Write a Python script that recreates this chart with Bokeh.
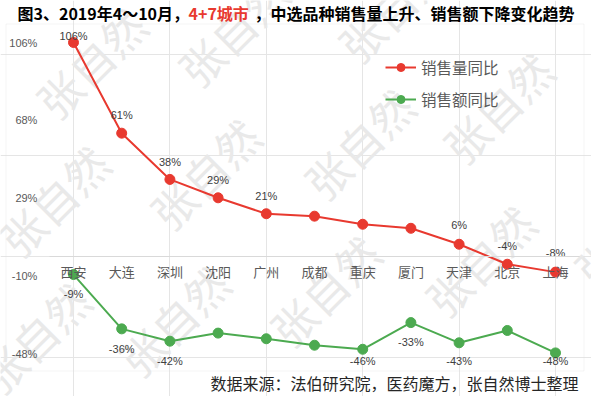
import math
from bokeh.plotting import figure
from bokeh.models import (Range1d, LinearAxis, FixedTicker, ColumnDataSource, Label,
                          BoxAnnotation, Legend, LegendItem)
from bokeh.core.properties import value
from bokeh.embed import file_html
from bokeh.resources import INLINE

# ---------------- data ----------------
cities = ["西安", "大连", "深圳", "沈阳", "广州", "成都", "重庆", "厦门", "天津", "北京", "上海"]
volume_yoy = [106, 61.1, 38.2, 29.1, 21.2, 20.0, 16.0, 14.0, 6.1, -3.8, -7.7]
amount_yoy = [-8.9, -35.8, -41.9, -37.9, -40.7, -43.9, -45.9, -32.7, -42.7, -36.6, -47.7]
volume_labels = ["106%", "61%", "38%", "29%", "21%", "", "", "", "6%", "-4%", "-8%"]
amount_labels = ["-9%", "-36%", "-42%", "", "", "", "-46%", "-33%", "-43%", "", "-48%"]
y_ticks = [-48, -9.5, 29, 67.5, 106]
y_tick_labels = ["-48%", "-10%", "29%", "68%", "106%"]
series_names = ["销售量同比", "销售额同比"]
title_parts = ["图3、2019年4～10月，", "4+7城市", "，中选品种销售量上升、销售额下降变化趋势"]
source_note = "数据来源：法伯研究院，医药魔方，张自然博士整理"
watermark = "张自然"

# ---------------- layout / style ----------------
W, H = 591, 396
STEP = 48.2          # px per category
X0 = 73              # canvas px of first category centre
PXV = 2.0195         # px per percentage point
YTOP = 42            # canvas px of top tick
RED = "#E8392F"
GREEN = "#4CAA50"
GRAY_TXT = "#595959"
LBL_TXT = "#404040"

vol_dy = [-7, -18, -17, -18, -18, -18, -18, -18, -19, -18, -19]
amt_dy = [19, 20, 20, 20, 20, 20, 12, 19, 18, 20, 8]
wm_centres = [(90, 62), (232, 30), (392, 6), (53, 200), (204, 173), (358, 143), (497, 107),
              (34, 337), (173, 320), (324, 290), (479, 260), (628, 230)]

top_v = y_ticks[-1]
x_range = Range1d(-X0 / STEP, (W - X0) / STEP)
y_range = Range1d(top_v - (H - YTOP) / PXV, top_v + YTOP / PXV)

p = figure(width=W, height=H, x_range=x_range, y_range=y_range,
           output_backend="svg", toolbar_location=None,
           x_axis_location=None, y_axis_location=None, min_border=0, title=None)
p.outline_line_color = None
p.background_fill_color = "white"
p.border_fill_color = "white"

# watermarks (underlay)
for (cx, cy) in wm_centres:
    p.add_layout(Label(x=cx, y=H - cy, x_units="screen", y_units="screen",
                       text=watermark, angle=math.pi / 4, text_align="center",
                       text_baseline="middle", text_font="Noto Sans CJK SC",
                       text_font_size="44px", text_color="#e9e9e9", level="underlay"))

# chart border
p.add_layout(BoxAnnotation(left=5.5, right=583.5, top=H - 23.5, bottom=H - 370.5,
                           left_units="screen", right_units="screen",
                           top_units="screen", bottom_units="screen",
                           fill_color=None, line_color="#d9d9d9", line_width=1))

xs = list(range(len(cities)))

# category axis crossing at 0
xaxis = LinearAxis(fixed_location=0, ticker=FixedTicker(ticks=xs),
                   major_label_overrides={i: c for i, c in enumerate(cities)},
                   bounds=(-0.5, len(cities) - 0.5))
xaxis.axis_line_color = "#d9d9d9"
xaxis.major_tick_out = 0
xaxis.major_tick_in = 0
xaxis.minor_tick_out = 0
xaxis.minor_tick_in = 0
xaxis.major_label_standoff = 5
xaxis.major_label_text_font = "Noto Sans CJK SC"
xaxis.major_label_text_font_size = "13px"
xaxis.major_label_text_color = GRAY_TXT
p.add_layout(xaxis, "below")

yaxis = LinearAxis(fixed_location=-0.5, ticker=FixedTicker(ticks=y_ticks),
                   major_label_overrides=dict(zip(y_ticks, y_tick_labels)))
yaxis.axis_line_color = None
yaxis.major_tick_out = 0
yaxis.major_tick_in = 0
yaxis.minor_tick_out = 0
yaxis.minor_tick_in = 0
yaxis.major_label_standoff = 12
yaxis.major_label_text_font = "Liberation Sans"
yaxis.major_label_text_font_size = "11px"
yaxis.major_label_text_color = GRAY_TXT
p.add_layout(yaxis, "left")

src = ColumnDataSource(dict(x=xs, vol=volume_yoy, amt=amount_yoy,
                            vol_lab=volume_labels, amt_lab=amount_labels,
                            vol_dy=vol_dy, amt_dy=amt_dy))

r1 = p.line("x", "vol", source=src, line_color=RED, line_width=2)
s1 = p.scatter("x", "vol", source=src, size=10, fill_color=RED, line_color=RED)
r2 = p.line("x", "amt", source=src, line_color=GREEN, line_width=2)
s2 = p.scatter("x", "amt", source=src, size=10, fill_color=GREEN, line_color=GREEN)

for col, dy in (("vol", "vol_dy"), ("amt", "amt_dy")):
    p.text("x", col, text=col + "_lab", source=src, y_offset=dy,
           text_align="center", text_baseline="middle",
           text_font=value("Liberation Sans"), text_font_size="11px",
           text_color=LBL_TXT)

legend = Legend(items=[LegendItem(label=series_names[0], renderers=[r1, s1]),
                       LegendItem(label=series_names[1], renderers=[r2, s2])],
                location=(385, H - 110), orientation="vertical")
legend.glyph_width = 31
legend.glyph_height = 20
legend.label_height = 20
legend.spacing = 10
legend.padding = 0
legend.margin = 0
legend.label_standoff = 5
legend.label_text_font = "Noto Sans CJK SC"
legend.label_text_font_size = "15.5px"
legend.label_text_color = GRAY_TXT
legend.border_line_color = None
legend.background_fill_alpha = 0
p.add_layout(legend)

# title in three colour runs
title_x = [17, 188, 254]
title_colors = ["#000000", RED, "#000000"]
for txt, tx, tc in zip(title_parts, title_x, title_colors):
    p.add_layout(Label(x=tx, y=H - 12.5, x_units="screen", y_units="screen", text=txt,
                       text_font="Noto Sans CJK SC", text_font_style="bold",
                       text_font_size="16px", text_color=tc, text_baseline="middle"))

p.add_layout(Label(x=578, y=H - 382, x_units="screen", y_units="screen", text=source_note,
                   text_align="right", text_baseline="middle",
                   text_font="Noto Sans CJK SC", text_font_size="16px",
                   text_color="#262626"))

open("out.html", "w").write(file_html(p, INLINE))
